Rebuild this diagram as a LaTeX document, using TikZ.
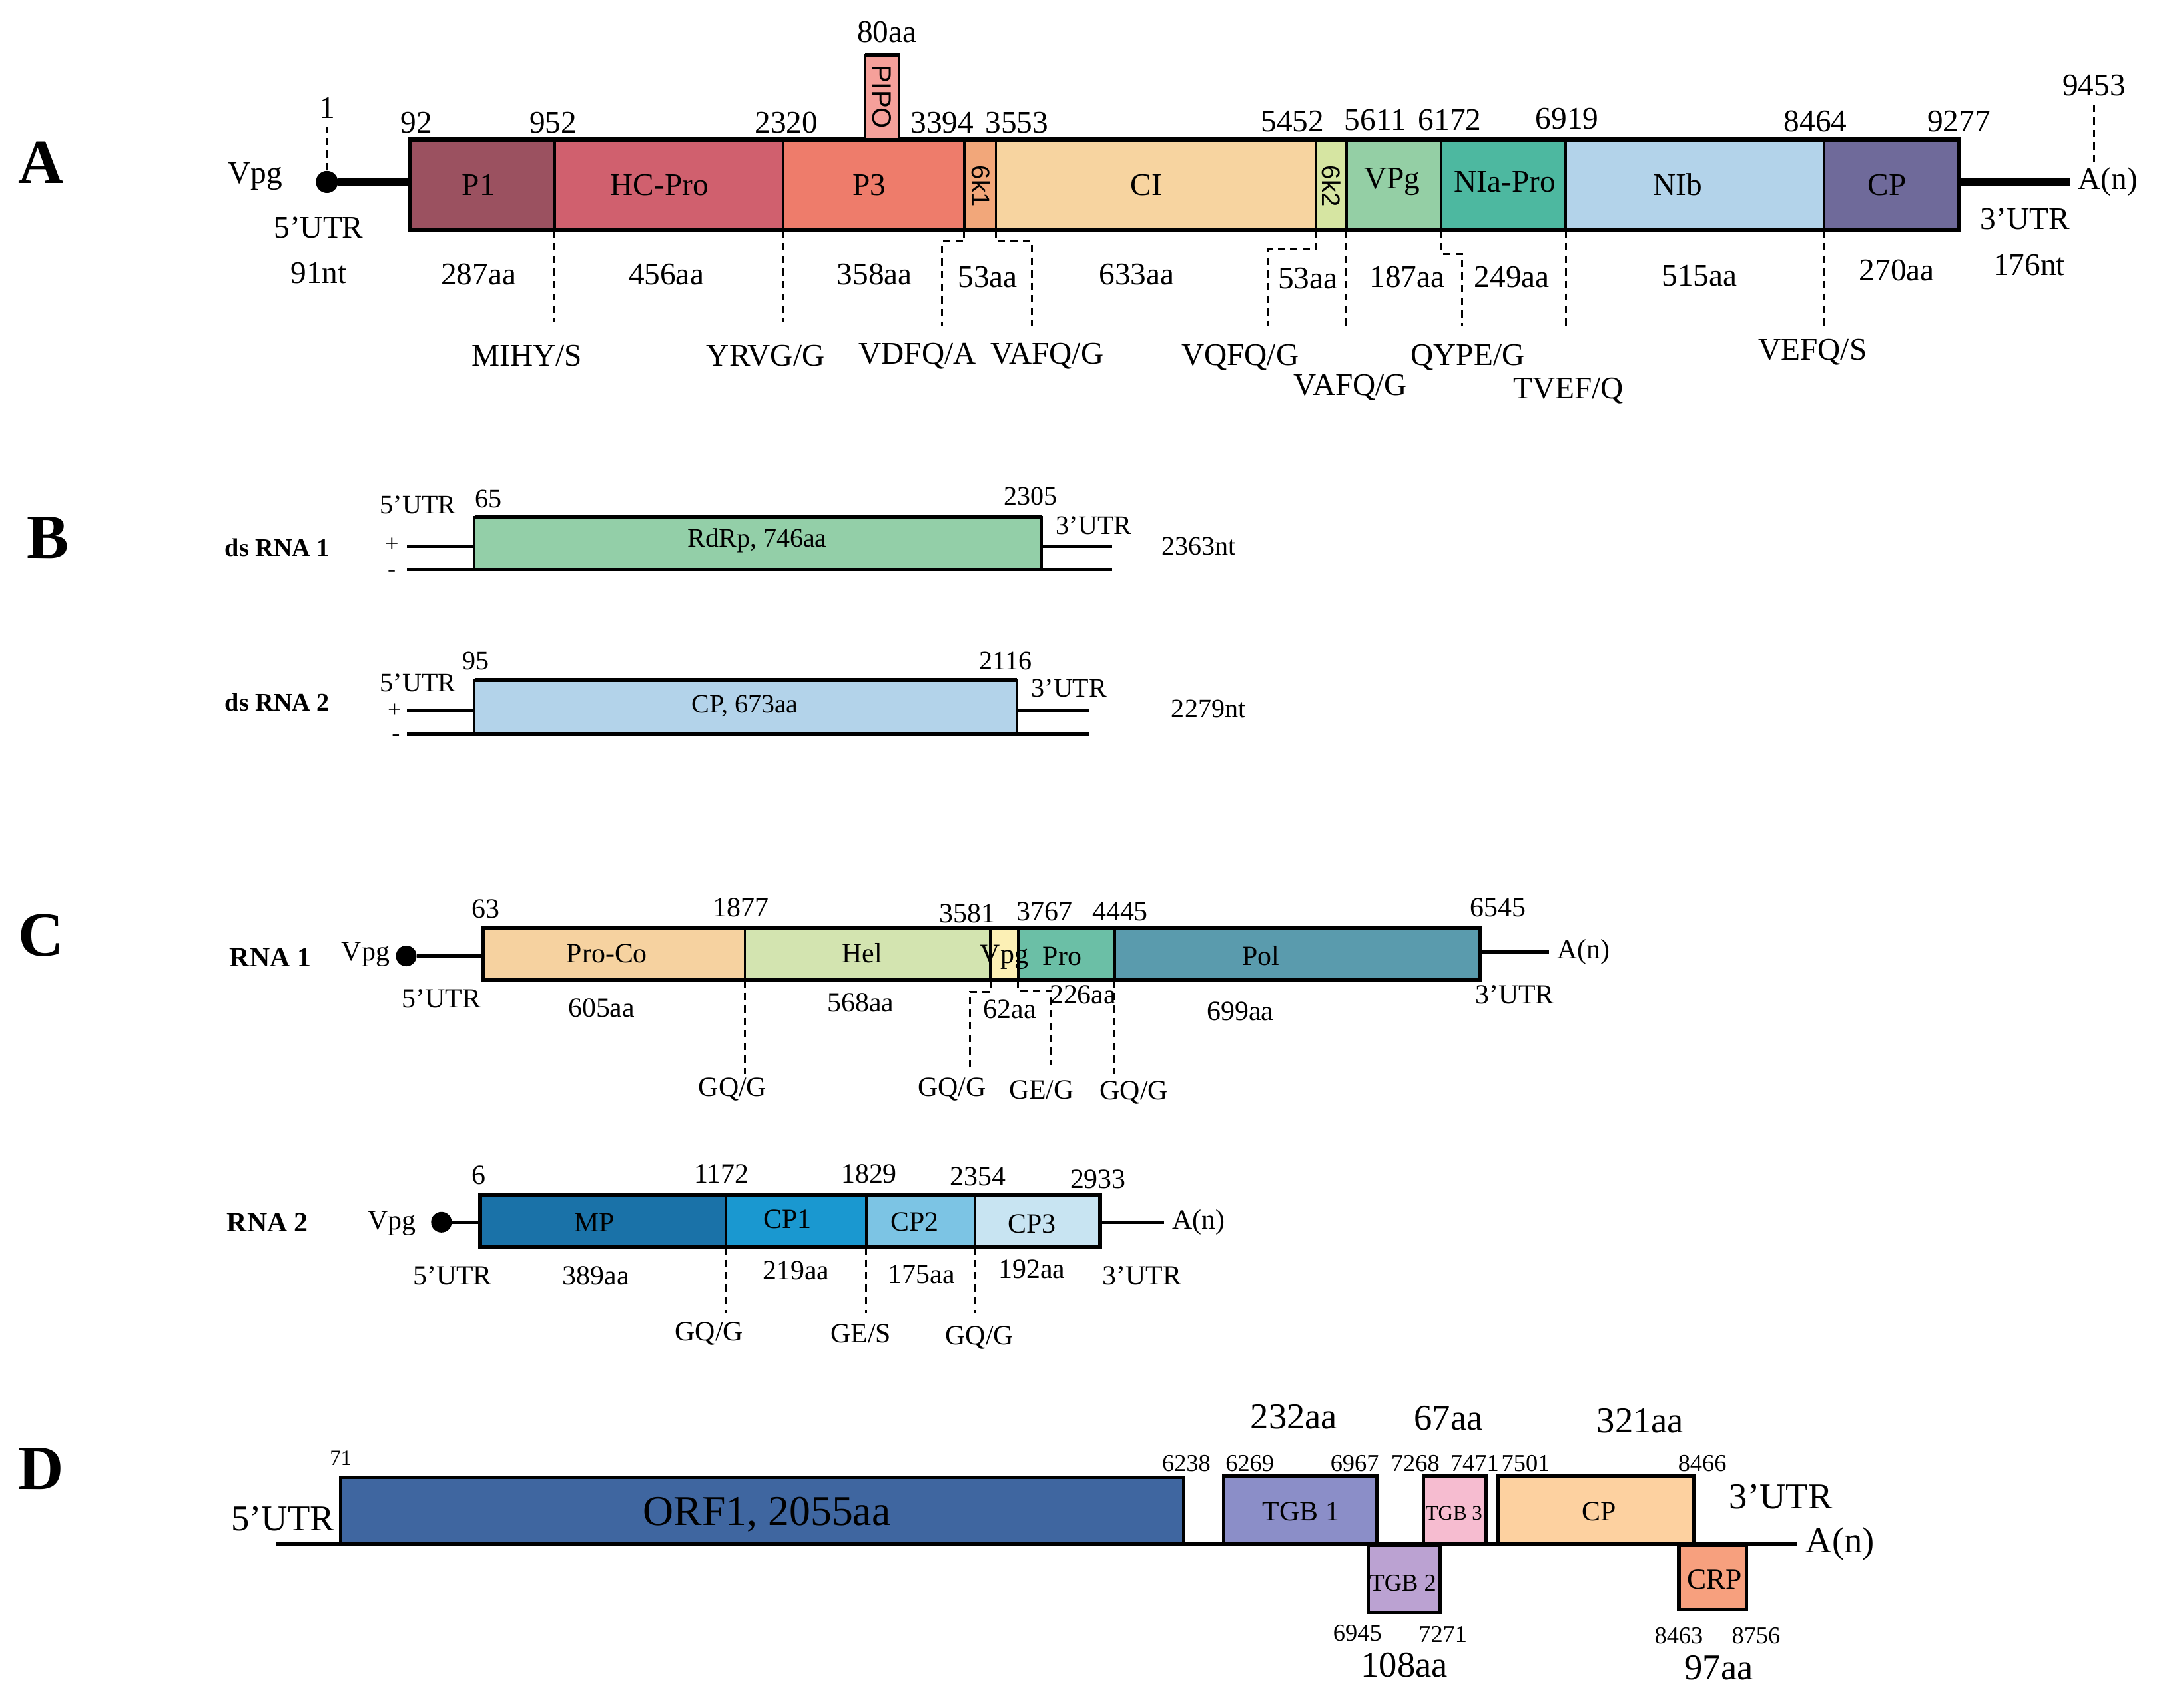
\documentclass[tikz,border=0pt]{standalone}
\usepackage{fontspec}
\setmainfont{Liberation Serif}
\setsansfont{Liberation Sans}
%% colours of the polyproteins
\definecolor{cPone}{HTML}{9B5160}
\definecolor{cHC}{HTML}{D0606E}
\definecolor{cPthree}{HTML}{EE7C6B}
\definecolor{cPIPO}{HTML}{F5A09A}
\definecolor{cSixKone}{HTML}{F2A77A}
\definecolor{cCI}{HTML}{F7D4A0}
\definecolor{cSixKtwo}{HTML}{D6E5A2}
\definecolor{cVPg}{HTML}{94CFA5}
\definecolor{cNIa}{HTML}{4DB8A0}
\definecolor{cNIb}{HTML}{B3D3EA}
\definecolor{cCPa}{HTML}{6F6A9A}
\definecolor{cRdRp}{HTML}{93CFA8}
\definecolor{cCPb}{HTML}{B3D3EA}
\definecolor{cProCo}{HTML}{F6D2A0}
\definecolor{cHel}{HTML}{D3E4B0}
\definecolor{cVpgC}{HTML}{FCF0B5}
\definecolor{cPro}{HTML}{6BBFA6}
\definecolor{cPol}{HTML}{5A9BAD}
\definecolor{cMP}{HTML}{1A72A8}
\definecolor{cCPone}{HTML}{1A98D0}
\definecolor{cCPtwo}{HTML}{7CC4E4}
\definecolor{cCPthree}{HTML}{C8E4F2}
\definecolor{cORF}{HTML}{3F66A0}
\definecolor{cTGBone}{HTML}{8B8EC8}
\definecolor{cTGBtwo}{HTML}{BBA2D2}
\definecolor{cTGBthree}{HTML}{F6BCD0}
\definecolor{cCPd}{HTML}{FDD1A0}
\definecolor{cCRP}{HTML}{F7A07E}
\begin{document}
\begin{tikzpicture}[x=0.02cm,y=-0.02cm,
    lbl/.style={font=\fontsize{26}{30}\selectfont\bfseries},
    ta/.style={font=\fontsize{13}{15}\selectfont},
    tsf/.style={font=\fontsize{10.5}{12}\selectfont\sffamily,rotate=-90},
    tb/.style={font=\fontsize{11}{13}\selectfont},
    tc/.style={font=\fontsize{11.5}{13}\selectfont},
    td/.style={font=\fontsize{15}{17}\selectfont},
    tdn/.style={font=\fontsize{10}{12}\selectfont},
    sgn/.style={font=\fontsize{10}{11}\selectfont,inner sep=0pt},
    cut/.style={line width=0.8pt,dash pattern=on 3pt off 2.2pt},
    vdot/.style={circle,fill=black,inner sep=0pt,minimum size=0.32cm},
    box/.style={line width=1pt}]
  \useasboundingbox (0,0) rectangle (1568,1238);

  %% ---------------- A ----------------
  \node[lbl] (A) at (30,118) {A};
  \filldraw[box,fill=cPone] (297,101) rectangle (402,167);
  \filldraw[box,fill=cHC] (402,101) rectangle (568,167);
  \filldraw[box,fill=cPthree] (568,101) rectangle (699,167);
  \filldraw[box,fill=cSixKone] (699,101) rectangle (722,167);
  \filldraw[box,fill=cCI] (722,101) rectangle (954,167);
  \filldraw[box,fill=cSixKtwo] (954,101) rectangle (976,167);
  \filldraw[box,fill=cVPg] (976,101) rectangle (1045,167);
  \filldraw[box,fill=cNIa] (1045,101) rectangle (1135,167);
  \filldraw[box,fill=cNIb] (1135,101) rectangle (1322,167);
  \filldraw[box,fill=cCPa] (1322,101) rectangle (1420,167);
  \draw[line width=1.8pt] (297,101) rectangle (1420,167);
  \filldraw[box,fill=cPIPO] (627,40) rectangle (652,101);
  \draw[line width=1.8pt] (627,40) -- (652,40);

  \node[ta] (P1) at (347,134) {P1};
  \node[ta] (HCPro) at (478,134) {HC-Pro};
  \node[ta] (P3) at (630,134) {P3};
  \node[tsf] (sixKone) at (711,135) {6k1};
  \node[ta] (CI) at (831,134) {CI};
  \node[tsf] (sixKtwo) at (965,135) {6k2};
  \node[ta] (VPg) at (1009,132) {VPg};
  \node[ta] (NIaPro) at (1091,132) {NIa-Pro};
  \node[ta] (NIb) at (1216,134) {NIb};
  \node[ta] (CPa) at (1368,134) {CP};
  \node[tsf,font=\fontsize{11}{12}\selectfont\sffamily] (PIPO) at (639.5,70) {PIPO};
  \node[ta] (aaPIPO) at (643,23) {80aa};

  %% ends of the genome
  \node[vdot] (vdA) at (237,132) {};
  \node[ta] (vpgA) at (185,128) {Vpg};
  \node[ta] (one) at (237,78) {1};
  \node[ta] (utrAa) at (231,165) {5’UTR};
  \node[ta] (ntAa) at (231,198) {91nt};
  \node[ta] (AnA) at (1528,132) {A(n)};
  \node[ta] (nEnd) at (1518,62) {9453};
  \node[ta] (utrAb) at (1468,159) {3’UTR};
  \node[ta] (ntAb) at (1471,192) {176nt};
  \coordinate (Aleft) at (297,132);
  \coordinate (Aright) at (1420,132);
  \coordinate (cEnd) at (1518,122);
  \draw[line width=3pt] (vdA) -- (Aleft);
  \draw[line width=3pt] (Aright) -- (AnA);
  \draw[cut] (vdA) -- (one);
  \draw[cut] (nEnd) -- (cEnd);

  %% positions
  \node[ta] (n92) at (302,89) {92};
  \node[ta] (n952) at (401,89) {952};
  \node[ta] (n2320) at (570,89) {2320};
  \node[ta] (n3394) at (683,89) {3394};
  \node[ta] (n3553) at (737,89) {3553};
  \node[ta] (n5452) at (937,88) {5452};
  \node[ta] (n5611) at (997,87) {5611};
  \node[ta] (n6172) at (1051,87) {6172};
  \node[ta] (n6919) at (1136,86) {6919};
  \node[ta] (n8464) at (1316,88) {8464};
  \node[ta] (n9277) at (1420,88) {9277};

  %% sizes
  \node[ta] (aaP1) at (347,199) {287aa};
  \node[ta] (aaHC) at (483,199) {456aa};
  \node[ta] (aaP3) at (634,199) {358aa};
  \node[ta] (aaSixKone) at (716,201) {53aa};
  \node[ta] (aaCI) at (824,199) {633aa};
  \node[ta] (aaSixKtwo) at (948,202) {53aa};
  \node[ta] (aaVPg) at (1020,201) {187aa};
  \node[ta] (aaNIa) at (1096,201) {249aa};
  \node[ta] (aaNIb) at (1232,200) {515aa};
  \node[ta] (aaCPa) at (1375,196) {270aa};

  %% cleavage sites
  \coordinate (sA1) at (402,167);
  \coordinate (sA2) at (568,167);
  \coordinate (sA3) at (699,167);
  \coordinate (sA4) at (722,167);
  \coordinate (sA5) at (954,167);
  \coordinate (sA6) at (976,167);
  \coordinate (sA7) at (1045,167);
  \coordinate (sA8) at (1135,167);
  \coordinate (sA9) at (1322,167);
  \draw[cut] (sA1) -- ++(0,66);
  \draw[cut] (sA2) -- ++(0,66);
  \draw[cut] (sA3) -- ++(0,8) -| (683,236);
  \draw[cut] (sA4) -- ++(0,8) -| (748,236);
  \draw[cut] (sA5) -- ++(0,14) -| (919,236);
  \draw[cut] (sA6) -- ++(0,69);
  \draw[cut] (sA7) -- ++(0,17) -| (1060,236);
  \draw[cut] (sA8) -- ++(0,69);
  \draw[cut] (sA9) -- ++(0,69);
  \node[ta] (cMIHY) at (382,258) {MIHY/S};
  \node[ta] (cYRVG) at (555,258) {YRVG/G};
  \node[ta] (cVDFQ) at (665,258) {VDFQ/A};
  \node[ta] (cVAFQa) at (759,258) {VAFQ/G};
  \node[ta] (cVQFQ) at (899,259) {VQFQ/G};
  \node[ta] (cVAFQb) at (979,281) {VAFQ/G};
  \node[ta] (cQYPE) at (1064,259) {QYPE/G};
  \node[ta] (cTVEF) at (1137,283) {TVEF/Q};
  \node[ta] (cVEFQ) at (1314,255) {VEFQ/S};

  %% ---------------- B ----------------
  \node[lbl] (B) at (35,390) {B};
  \filldraw[box,fill=cRdRp] (344,375) rectangle (755,413);
  \draw[line width=1.6pt] (344,375) -- (755,375);
  \coordinate (bOneA) at (295,396);
  \coordinate (bOneB) at (344,396);
  \coordinate (bOneC) at (755,396);
  \coordinate (bOneD) at (806,396);
  \coordinate (bOneE) at (295,413);
  \coordinate (bOneF) at (806,413);
  \draw[line width=1.4pt] (bOneA) -- (bOneB);
  \draw[line width=1.4pt] (bOneC) -- (bOneD);
  \draw[line width=1.6pt] (bOneE) -- (bOneF);
  \node[tb,font=\fontsize{10.5}{12}\selectfont\bfseries] (dsOne) at (201,397) {ds RNA 1};
  \node[sgn] (plusOne) at (284,395) {+};
  \node[sgn] (minusOne) at (284,416) {-};
  \node[tb] (utrBa) at (303,366) {5’UTR};
  \node[tb] (n65) at (354,362) {65};
  \node[tb] (n2305) at (747,360) {2305};
  \node[tb] (utrBb) at (793,381) {3’UTR};
  \node[tb] (nt2363) at (869,396) {2363nt};
  \node[tb] (RdRp) at (549,392) {RdRp, 746aa};

  \filldraw[box,fill=cCPb] (344,493) rectangle (737,532);
  \draw[line width=1.6pt] (344,493) -- (737,493);
  \coordinate (bTwoA) at (295,515);
  \coordinate (bTwoB) at (344,515);
  \coordinate (bTwoC) at (737,515);
  \coordinate (bTwoD) at (790,515);
  \coordinate (bTwoE) at (295,532.5);
  \coordinate (bTwoF) at (790,532.5);
  \draw[line width=1.4pt] (bTwoA) -- (bTwoB);
  \draw[line width=1.4pt] (bTwoC) -- (bTwoD);
  \draw[line width=1.6pt] (bTwoE) -- (bTwoF);
  \node[tb,font=\fontsize{10.5}{12}\selectfont\bfseries] (dsTwo) at (201,509) {ds RNA 2};
  \node[sgn] (plusTwo) at (286,515) {+};
  \node[sgn] (minusTwo) at (287,535) {-};
  \node[tb] (utrBc) at (303,495) {5’UTR};
  \node[tb] (n95) at (345,479) {95};
  \node[tb] (n2116) at (729,479) {2116};
  \node[tb] (utrBd) at (775,499) {3’UTR};
  \node[tb] (nt2279) at (876,514) {2279nt};
  \node[tb] (CPb) at (540,512) {CP, 673aa};

  %% ---------------- C ----------------
  \node[lbl] (C) at (30,678) {C};
  %% RNA 1
  \filldraw[box,fill=cProCo] (350,672.5) rectangle (540,710.5);
  \filldraw[box,fill=cHel] (540,672.5) rectangle (718,710.5);
  \filldraw[box,fill=cVpgC] (718,672.5) rectangle (738,710.5);
  \filldraw[box,fill=cPro] (738,672.5) rectangle (808,710.5);
  \filldraw[box,fill=cPol] (808,672.5) rectangle (1073,710.5);
  \draw[line width=1.6pt] (350,672.5) rectangle (1073,710.5);
  \node[tc,font=\fontsize{11.5}{13}\selectfont\bfseries] (rnaOne) at (196,694) {RNA 1};
  \node[tc] (vpgC) at (265,692) {Vpg};
  \node[vdot,minimum size=0.3cm] (vdC) at (294.5,693) {};
  \node[tc] (AnC) at (1148,690) {A(n)};
  \coordinate (Cleft) at (350,693);
  \coordinate (Cright) at (1073,690);
  \draw[line width=1.4pt] (vdC) -- (Cleft);
  \draw[line width=1.4pt] (Cright) -- (AnC);
  \node[tc] (ProCo) at (440,691) {Pro-Co};
  \node[tc] (Hel) at (625,691) {Hel};
  \node[tc] (VpgCC) at (728,694) {Vpg};
  \node[tc] (Pro) at (770,693) {Pro};
  \node[tc] (Pol) at (914,693) {Pol};
  \node[tc] (n63) at (352,659) {63};
  \node[tc] (n1877) at (537,658) {1877};
  \node[tc] (n3581) at (701,662) {3581};
  \node[tc] (n3767) at (757,661) {3767};
  \node[tc] (n4445) at (812,661) {4445};
  \node[tc] (n6545) at (1086,658) {6545};
  \node[tc] (utrCa) at (320,724) {5’UTR};
  \node[tc] (aaProCo) at (436,731) {605aa};
  \node[tc] (aaHel) at (624,727) {568aa};
  \node[tc] (aaVpgC) at (732,732) {62aa};
  \node[tc] (aaPro) at (785,721) {226aa};
  \node[tc] (aaPol) at (899,733) {699aa};
  \node[tc] (utrCb) at (1098,721) {3’UTR};
  \coordinate (sC1) at (540,710.5);
  \coordinate (sC2) at (718,710.5);
  \coordinate (sC3) at (738,710.5);
  \coordinate (sC4) at (808,710.5);
  \draw[cut] (sC1) -- ++(0,68);
  \draw[cut] (sC2) -- ++(0,8.5) -| (703,775);
  \draw[cut] (sC3) -- ++(0,7.5) -| (762,772);
  \draw[cut] (sC4) -- ++(0,68);
  \node[tc] (cGQa) at (531,790) {GQ/G};
  \node[tc] (cGQb) at (690,790) {GQ/G};
  \node[tc] (cGEa) at (755,790) {GE/G};
  \node[tc] (cGQc) at (822,792) {GQ/G};

  %% RNA 2
  \filldraw[box,fill=cMP] (348,866) rectangle (526,904);
  \filldraw[box,fill=cCPone] (526,866) rectangle (628,904);
  \filldraw[box,fill=cCPtwo] (628,866) rectangle (707,904);
  \filldraw[box,fill=cCPthree] (707,866) rectangle (797.5,904);
  \draw[line width=1.6pt] (348,866) rectangle (797.5,904);
  \node[tc,font=\fontsize{11.5}{13}\selectfont\bfseries] (rnaTwo) at (194,886) {RNA 2};
  \node[tc] (vpgCb) at (284,887) {Vpg};
  \node[vdot,minimum size=0.3cm] (vdCb) at (320,886) {};
  \node[tc] (AnCb) at (869,886) {A(n)};
  \coordinate (CbLeft) at (348,886);
  \coordinate (CbRight) at (797.5,886);
  \draw[line width=1.4pt] (vdCb) -- (CbLeft);
  \draw[line width=1.4pt] (CbRight) -- (AnCb);
  \node[tc] (MP) at (431,886) {MP};
  \node[tc] (CPone) at (571,884) {CP1};
  \node[tc] (CPtwo) at (663,886) {CP2};
  \node[tc] (CPthree) at (748,887) {CP3};
  \node[tc] (n6) at (347,852) {6};
  \node[tc] (n1172) at (523,851) {1172};
  \node[tc] (n1829) at (630,851) {1829};
  \node[tc] (n2354) at (709,853) {2354};
  \node[tc] (n2933) at (796,855) {2933};
  \node[tc] (utrCc) at (328,925) {5’UTR};
  \node[tc] (aaMP) at (432,925) {389aa};
  \node[tc] (aaCPone) at (577,921) {219aa};
  \node[tc] (aaCPtwo) at (668,924) {175aa};
  \node[tc] (aaCPthree) at (748,920) {192aa};
  \node[tc] (utrCd) at (828,925) {3’UTR};
  \coordinate (sC5) at (526,904);
  \coordinate (sC6) at (628,904);
  \coordinate (sC7) at (707,904);
  \draw[cut] (sC5) -- ++(0,48);
  \draw[cut] (sC6) -- ++(0,48);
  \draw[cut] (sC7) -- ++(0,48);
  \node[tc] (cGQd) at (514,967) {GQ/G};
  \node[tc] (cGES) at (624,967) {GE/S};
  \node[tc] (cGQe) at (710,970) {GQ/G};

  %% ---------------- D ----------------
  \node[lbl] (D) at (30,1065) {D};
  \coordinate (Dleft) at (200,1119);
  \coordinate (Dright) at (1303,1119);
  \draw[line width=1.5pt] (Dleft) -- (Dright);
  \filldraw[line width=1.4pt,fill=cORF] (247,1071) rectangle (858,1119);
  \filldraw[line width=1.4pt,fill=cTGBone] (887,1070) rectangle (998,1119);
  \filldraw[line width=1.4pt,fill=cTGBthree] (1032,1070) rectangle (1077,1119);
  \filldraw[line width=1.4pt,fill=cCPd] (1086,1070) rectangle (1228,1119);
  \filldraw[line width=1.4pt,fill=cTGBtwo] (992,1120) rectangle (1044,1169);
  \filldraw[line width=1.4pt,fill=cCRP] (1217,1120) rectangle (1266,1167);
  \node[td,font=\fontsize{17.5}{20}\selectfont] (ORF) at (556,1098) {ORF1, 2055aa};
  \node[tc] (TGBone) at (943,1096) {TGB 1};
  \node[tc,font=\fontsize{8.5}{10}\selectfont] (TGBthree) at (1054,1097) {TGB 3};
  \node[tc] (CPd) at (1159,1096) {CP};
  \node[tdn] (TGBtwo) at (1017,1148) {TGB 2};
  \node[tc,font=\fontsize{12}{14}\selectfont] (CRP) at (1243,1145) {CRP};
  \node[td] (utrDa) at (205,1101) {5’UTR};
  \node[td] (utrDb) at (1291,1085) {3’UTR};
  \node[td] (AnD) at (1334,1119) {A(n)};
  \node[tdn,font=\fontsize{9}{11}\selectfont] (n71) at (247,1057) {71};
  \node[tdn] (n6238) at (860,1061) {6238};
  \node[tdn] (n6269) at (906,1061) {6269};
  \node[tdn] (n6967) at (982,1061) {6967};
  \node[tdn] (n7268) at (1026,1061) {7268};
  \node[tdn] (n7471) at (1069,1061) {7471};
  \node[tdn] (n7501) at (1106,1061) {7501};
  \node[tdn] (n8466) at (1234,1061) {8466};
  \node[tdn] (n6945) at (984,1184) {6945};
  \node[tdn] (n7271) at (1046,1185) {7271};
  \node[tdn] (n8463) at (1217,1186) {8463};
  \node[tdn] (n8756) at (1273,1186) {8756};
  \node[td] (aaTGBone) at (938,1027) {232aa};
  \node[td] (aaTGBthree) at (1050,1028) {67aa};
  \node[td] (aaCPd) at (1189,1030) {321aa};
  \node[td] (aaTGBtwo) at (1018,1207) {108aa};
  \node[td] (aaCRP) at (1246,1209) {97aa};
\end{tikzpicture}
\end{document}
